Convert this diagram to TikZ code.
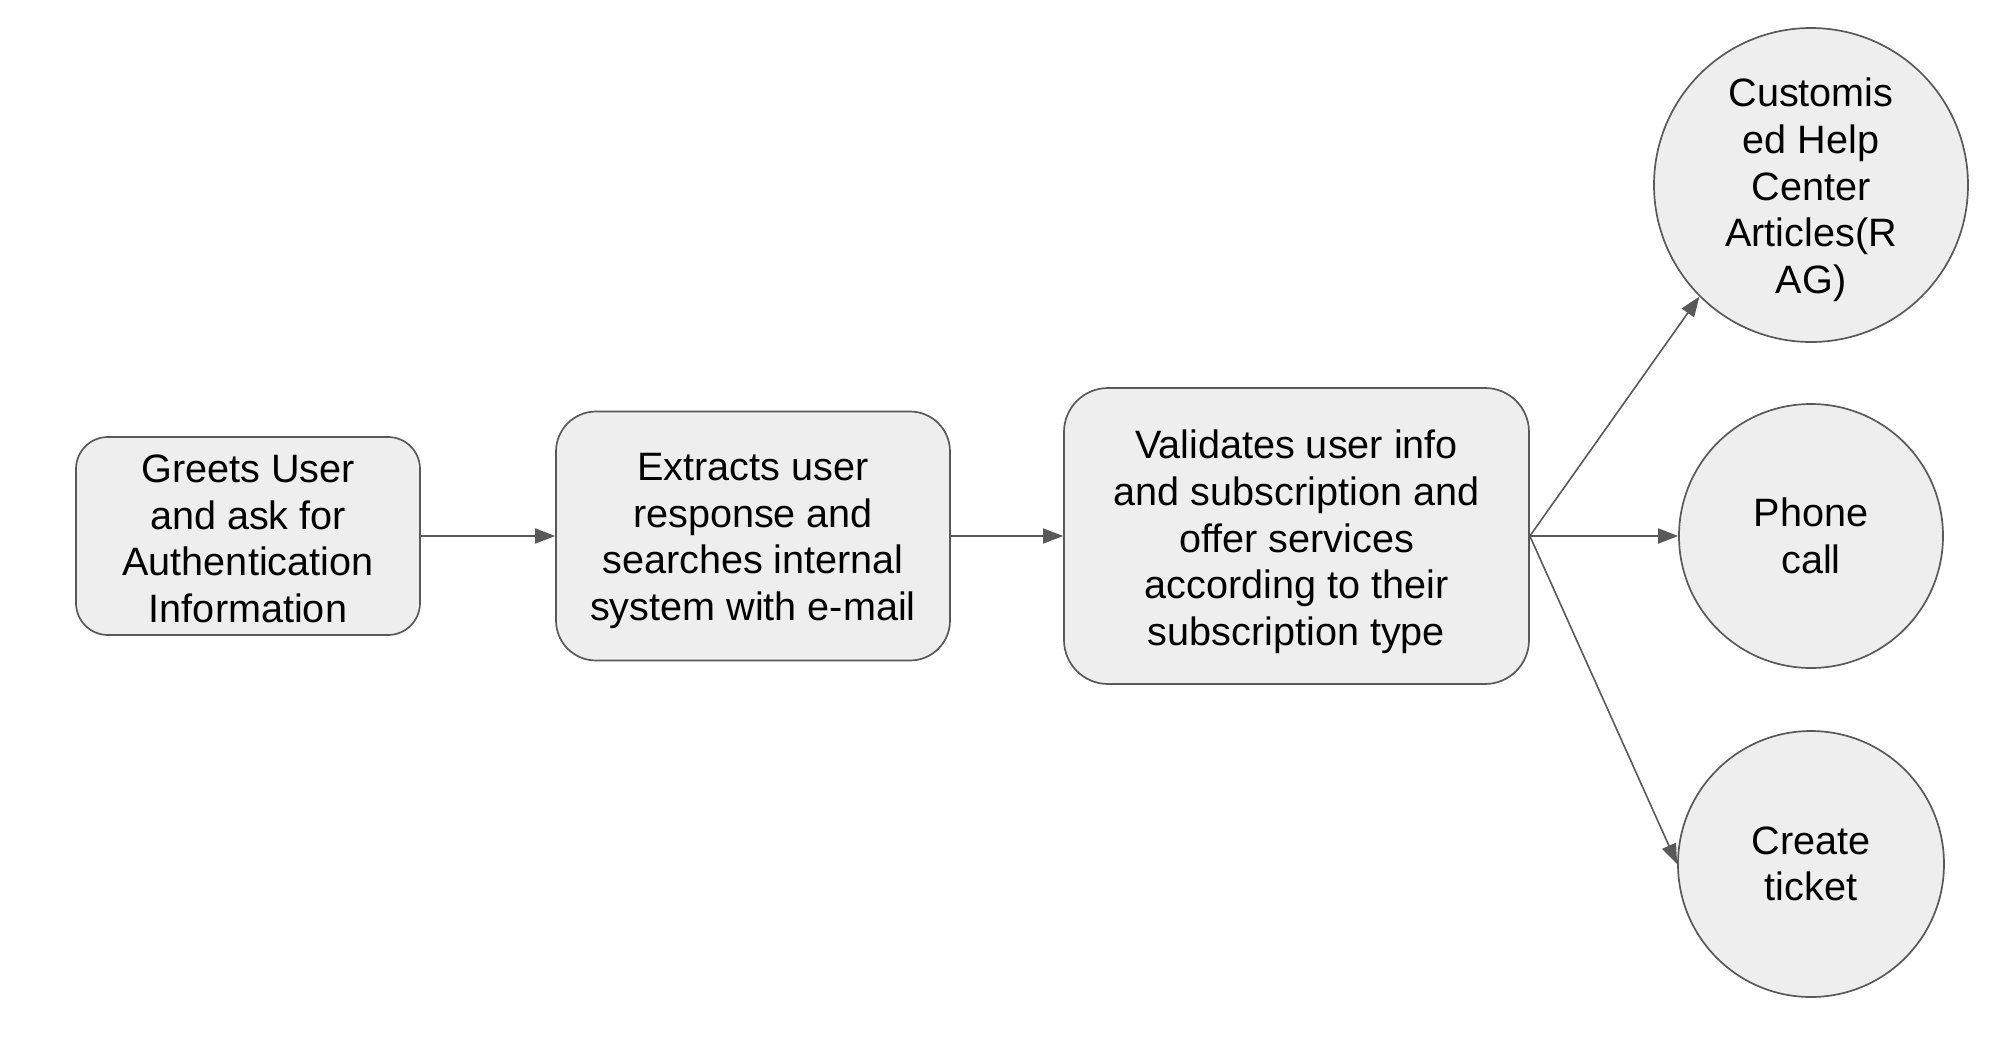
\documentclass[tikz,border=0pt]{standalone}
\usepackage{fontspec}
\setmainfont{Liberation Sans}
\usetikzlibrary{arrows.meta}
\definecolor{boxfill}{HTML}{EEEEEE}
\definecolor{linegray}{HTML}{595959}
\tikzset{
  procbox/.style={draw=linegray, fill=boxfill, line width=0.85pt, rounded corners=#1,
    inner sep=0pt},
  endcircle/.style={draw=linegray, fill=boxfill, line width=0.85pt, circle,
    inner sep=0pt},
  shapetext/.style={align=center, inner sep=0pt, text=black,
    font=\fontsize{19.8}{23.35}\selectfont},
  flow/.style={draw=linegray, line width=0.8pt,
    -{Triangle[length=10pt,width=7.5pt]}},
}
\begin{document}
\begin{tikzpicture}[x=0.5pt,y=-0.5pt]
\useasboundingbox (0,0) rectangle (1994,1040);
\node[procbox=16pt, minimum width=172pt, minimum height=99pt] (greet) at (248,536) {};
\node[procbox=20pt, minimum width=197pt, minimum height=124.5pt] (extract) at (753,536) {};
\node[procbox=22pt, minimum width=232.5pt, minimum height=148pt] (validate) at (1296.5,536) {};
\node[endcircle, minimum size=157pt] (rag) at (1811,185) {};
\node[endcircle, minimum size=132pt] (phone) at (1811,536) {};
\node[endcircle, minimum size=133pt] (ticket) at (1811,864) {};
\node[shapetext] (greet-t) at ([yshift=-1.5pt]greet.center)
  {Greets User\\and ask for\\Authentication\\Information};
\node[shapetext] (extract-t) at ([yshift=-2.5pt]extract.center)
  {Extracts user\\response and\\searches internal\\system with e-mail};
\node[shapetext] (validate-t) at ([yshift=-3pt]validate.center)
  {Validates user info\\and subscription and\\offer services\\according to their\\subscription type};
\node[shapetext] (rag-t) at ([yshift=-2.5pt]rag.center)
  {Customis\\ed Help\\Center\\Articles(R\\AG)};
\node[shapetext] (phone-t) at (phone.center) {Phone\\call};
\node[shapetext] (ticket-t) at (ticket.center) {Create\\ticket};
\draw[flow] (greet.east) -- (extract.west);
\draw[flow] (extract.east) -- (validate.west);
\draw[flow] (validate.east) -- (rag.south west);
\draw[flow] (validate.east) -- (phone.west);
\draw[flow] (validate.east) -- (ticket.west);
\end{tikzpicture}
\end{document}
